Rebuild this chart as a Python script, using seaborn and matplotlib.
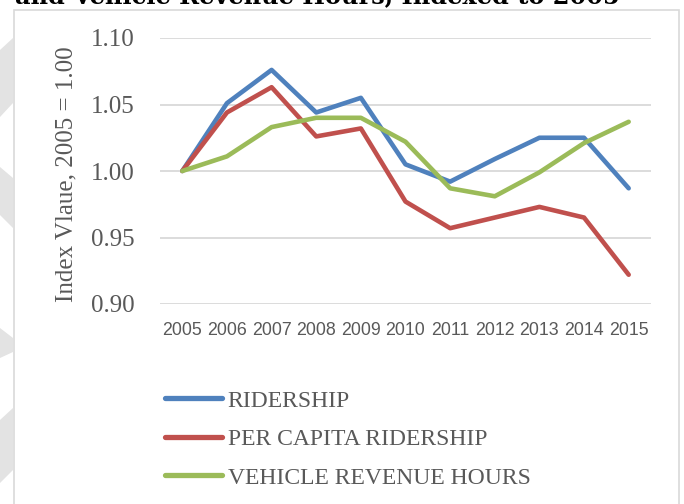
import pandas as pd
import matplotlib
matplotlib.use('Agg')
import matplotlib.pyplot as plt
import matplotlib.patches as mpatches
import seaborn as sns


years = ['2005', '2006', '2007', '2008', '2009', '2010',
         '2011', '2012', '2013', '2014', '2015']
ridership = [1.000, 1.051, 1.076, 1.044, 1.055, 1.005,
             0.992, 1.009, 1.025, 1.025, 0.987]
per_capita = [1.000, 1.044, 1.063, 1.026, 1.032, 0.977,
              0.957, 0.965, 0.973, 0.965, 0.922]
vehicle_hours = [1.000, 1.011, 1.033, 1.040, 1.040, 1.022,
                 0.987, 0.981, 0.999, 1.021, 1.037]

series_names = ['RIDERSHIP', 'PER CAPITA RIDERSHIP', 'VEHICLE REVENUE HOURS']
series_colors = ['#4F81BD', '#C0504D', '#9BBB59']
y_ticks = [0.90, 0.95, 1.00, 1.05, 1.10]

df = pd.concat([
    pd.DataFrame({'year': years, 'value': vals, 'series': name})
    for name, vals in zip(series_names, [ridership, per_capita, vehicle_hours])
])

sns.set_theme(style='white')
grey = '#595959'

fig = plt.figure(figsize=(6.84, 5.04), dpi=100)

# light grey watermark shapes at the left edge
W, H = 684, 504
shapes = [
    [(0, 50), (13, 38), (13, 103), (0, 117)],
    [(0, 167), (13, 178), (13, 228), (0, 215)],
    [(0, 328), (13, 338), (13, 352), (0, 358)],
    [(0, 420), (13, 408), (13, 470), (0, 483)],
]
for pts in shapes:
    fig.patches.append(mpatches.Polygon([(x / W, 1 - y / H) for x, y in pts],
                                        closed=True, transform=fig.transFigure,
                                        facecolor='#E3E3E3', edgecolor='none', zorder=-2))

# chart frame
fig.patches.append(mpatches.Rectangle((13.5 / W, -0.05), (679 - 13.5) / W, 1.05 - 9.5 / H,
                                      transform=fig.transFigure, facecolor='white',
                                      edgecolor='#D9D9D9', linewidth=1.2, zorder=-1))

ax = fig.add_axes([160 / W, 1 - 304 / H, 491 / W, 266 / H])
ax.set_facecolor('none')

sns.lineplot(data=df, x='year', y='value', hue='series', palette=series_colors,
             hue_order=series_names, sort=False, linewidth=3.3, legend=False, ax=ax)
for ln in ax.lines:
    ln.set_solid_joinstyle('round')
    ln.set_solid_capstyle('round')

ax.set_xlim(-0.5, len(years) - 0.5)
ax.set_ylim(0.9, 1.1)
ax.set_yticks(y_ticks)
ax.set_yticklabels([f'{v:.2f}' for v in y_ticks], fontfamily='Liberation Serif',
                   fontsize=18, color=grey)
ax.set_xticks(range(len(years)))
ax.set_xticklabels(years, fontfamily='Liberation Sans', fontsize=12.8, color=grey)
ax.tick_params(axis='y', length=0, pad=18)
ax.tick_params(axis='x', length=0, pad=13)
ax.grid(axis='y', color='#D9D9D9', linewidth=1.3)
ax.set_axisbelow(True)
for s in ax.spines.values():
    s.set_visible(False)
ax.set_xlabel('')
ax.set_ylabel('')

fig.text(66 / W, 1 - 174 / H, 'Index Vlaue, 2005 = 1.00', rotation=90,
         ha='center', va='center', fontfamily='Liberation Serif', fontsize=18, color=grey)

fig.text(15 / W, 1 - 3 / H, 'and Vehicle Revenue Hours, Indexed to 2005',
         ha='left', va='baseline', fontfamily='DejaVu Serif', fontweight='bold',
         fontsize=17.3, color='black')

leg = ax.legend(handles=ax.lines[:3], labels=series_names, loc='upper left',
                bbox_to_anchor=(165 / W, 1 - 390 / H), bbox_transform=fig.transFigure,
                frameon=False, borderpad=0, borderaxespad=0, handlelength=2.4,
                handletextpad=0.25, labelspacing=0.72,
                prop={'family': 'Liberation Serif', 'size': 17})
for t in leg.get_texts():
    t.set_color(grey)
for h in leg.legend_handles:
    h.set_linewidth(3.8)

fig.savefig('out.png', dpi=100)
